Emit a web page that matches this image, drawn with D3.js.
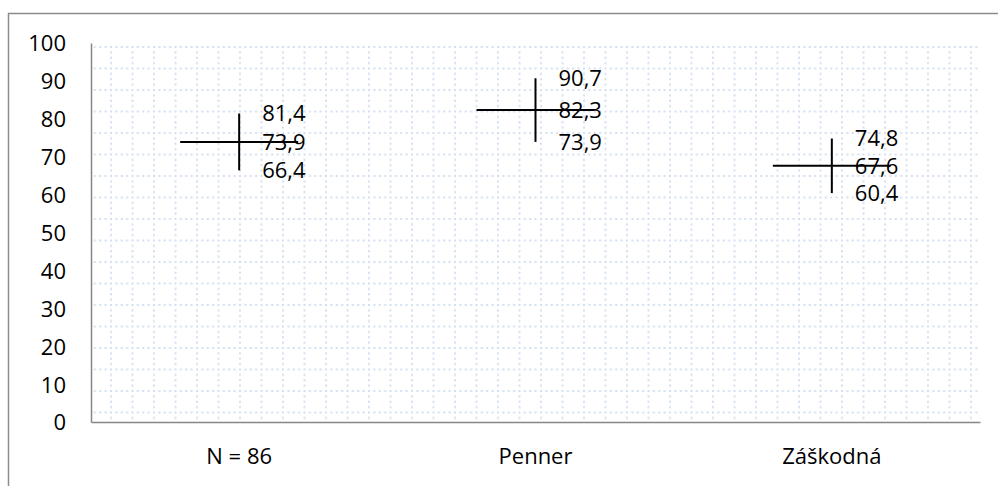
<!DOCTYPE html>
<html>
<head>
<meta charset="utf-8">
<script src="https://cdn.jsdelivr.net/npm/d3@7"></script>
<style>
  html, body { margin: 0; padding: 0; background: #fff; }
  svg { display: block; }
  text { font-family: "Open Sans", sans-serif; font-size: 22px; fill: #000; }
</style>
</head>
<body>
<script>
var categories = ["N = 86", "Penner", "Záškodná"];
var highs = [81.4, 90.7, 74.8];
var means = [73.9, 82.3, 67.6];
var lows = [66.4, 73.9, 60.4];
var yTicks = [0, 10, 20, 30, 40, 50, 60, 70, 80, 90, 100];

var W = 998, H = 486;
var plot = { left: 91, right: 980, top: 43, bottom: 422 };

var svg = d3.select("body").append("svg")
	.attr("width", W)
	.attr("height", H);

// dotted grid pattern fill of the plot area
var cell = 21.5, step = cell / 4;
var pat = svg.append("defs").append("pattern")
	.attr("id", "dotgrid")
	.attr("patternUnits", "userSpaceOnUse")
	.attr("x", 110).attr("y", 46)
	.attr("width", cell).attr("height", cell);
for (var k = 0; k < 4; k++) {
	pat.append("rect").attr("x", k * step).attr("y", 0).attr("width", 2).attr("height", 2).attr("fill", "#d2def1");
	if (k > 0)
		pat.append("rect").attr("x", 0).attr("y", k * step).attr("width", 2).attr("height", 2).attr("fill", "#d2def1");
}

// outer chart frame (runs off the right and bottom)
svg.append("rect")
	.attr("x", 8.5).attr("y", 13.5)
	.attr("width", W).attr("height", H)
	.attr("fill", "none")
	.attr("stroke", "#8c8c8c")
	.attr("stroke-width", 1.5);

svg.append("rect")
	.attr("x", plot.left).attr("y", plot.top)
	.attr("width", plot.right - plot.left)
	.attr("height", plot.bottom - plot.top)
	.attr("fill", "url(#dotgrid)");

var x = d3.scaleBand()
	.domain(categories)
	.range([plot.left, plot.right]);

var y = d3.scaleLinear()
	.domain([0, 100])
	.range([plot.bottom, plot.top]);

// y axis
var yAxis = svg.append("g")
	.attr("transform", "translate(" + plot.left + ",0)")
	.call(d3.axisLeft(y).tickValues(yTicks).tickSize(0).tickPadding(25));
yAxis.select(".domain").attr("stroke", "#868686").attr("stroke-width", 1.5);
yAxis.selectAll("text").attr("font-family", null).attr("font-size", null).attr("dy", "0.36em");

// x axis
var xAxis = svg.append("g")
	.attr("transform", "translate(0," + plot.bottom + ")")
	.call(d3.axisBottom(x).tickSize(0).tickPadding(26));
xAxis.select(".domain").attr("stroke", "#868686").attr("stroke-width", 1.5);
xAxis.selectAll("text").attr("font-family", null).attr("font-size", null);

var data = categories.map(function (c, i) {
	return { cat: c, high: highs[i], mean: means[i], low: lows[i] };
});
var fmt = function (v) { return d3.format(".1f")(v).replace(".", ","); };
var cx = function (d) { return x(d.cat) + x.bandwidth() / 2; };

var g = svg.append("g");

// labels
["high", "mean", "low"].forEach(function (key) {
	g.selectAll(".lbl-" + key)
		.data(data)
		.enter()
		.append("text")
		.attr("class", "lbl-" + key)
		.attr("x", function (d) { return cx(d) + 23; })
		.attr("y", function (d) { return y(d[key]); })
		.attr("dy", "0.36em")
		.text(function (d) { return fmt(d[key]); });
});

// high-low lines
g.selectAll(".hilo")
	.data(data)
	.enter()
	.append("line")
	.attr("class", "hilo")
	.attr("x1", cx).attr("x2", cx)
	.attr("y1", function (d) { return y(d.high); })
	.attr("y2", function (d) { return y(d.low); })
	.attr("stroke", "#000")
	.attr("stroke-width", 2);

// mean dash
g.selectAll(".mean")
	.data(data)
	.enter()
	.append("line")
	.attr("class", "mean")
	.attr("x1", function (d) { return cx(d) - 59; })
	.attr("x2", function (d) { return cx(d) + 59; })
	.attr("y1", function (d) { return y(d.mean); })
	.attr("y2", function (d) { return y(d.mean); })
	.attr("stroke", "#000")
	.attr("stroke-width", 2);
</script>
</body>
</html>
